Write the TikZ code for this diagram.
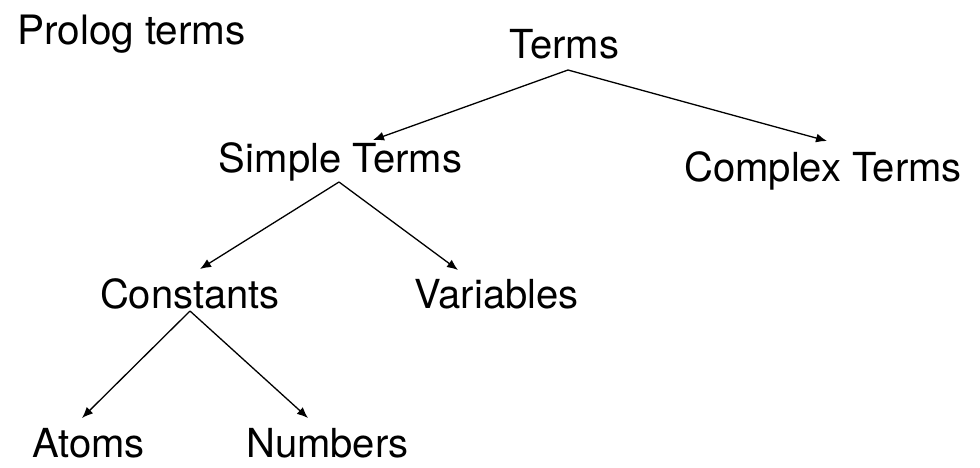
\documentclass[tikz,border=0pt]{standalone}
\usepackage{fontspec}
\setmainfont{TeX Gyre Heros}
\usepackage{tikz}
\usetikzlibrary{arrows.meta, positioning}

\begin{document}
\begin{tikzpicture}[
  x=1pt, y=-1pt,
  term/.style  = {inner sep=0pt, anchor=base, font=\fontsize{40}{45}\selectfont},
  title/.style = {inner sep=0pt, anchor=base west, font=\fontsize{40.5}{45}\selectfont},
  arr/.style   = {-{Latex[length=11pt, width=9pt]}, line width=1.3pt}
]

\useasboundingbox (0,0) rectangle (980,467);

\node[title] (prolog) at (17,44) {Prolog terms};

\node[term] (terms)     at (564.5,58)  {Terms};
\node[term] (simple)    at (340.5,172) {Simple Terms};
\node[term] (complex)   at (823,181)   {Complex Terms};
\node[term] (constants) at (190,308)   {Constants};
\node[term] (variables) at (496.5,308) {Variables};
\node[term] (atoms)     at (88.5,457)  {Atoms};
\node[term] (numbers)   at (327.5,457) {Numbers};

% top level
\draw[arr] ([shift={(3.5,12)}]terms.base) -- ([shift={(32.5,-32)}]simple.base);
\draw[arr] ([shift={(3.5,12)}]terms.base) -- ([shift={(4,-40)}]complex.base);
% simple terms
\draw[arr] ([shift={(-1.5,10)}]simple.base) -- ([shift={(10,-39)}]constants.base);
\draw[arr] ([shift={(-1.5,10)}]simple.base) -- ([shift={(-38.5,-38)}]variables.base);
% constants
\draw[arr] ([shift={(0,3)}]constants.base) -- ([shift={(-6.5,-39)}]atoms.base);
\draw[arr] ([shift={(0,3)}]constants.base) -- ([shift={(-19.5,-39)}]numbers.base);

\end{tikzpicture}
\end{document}
